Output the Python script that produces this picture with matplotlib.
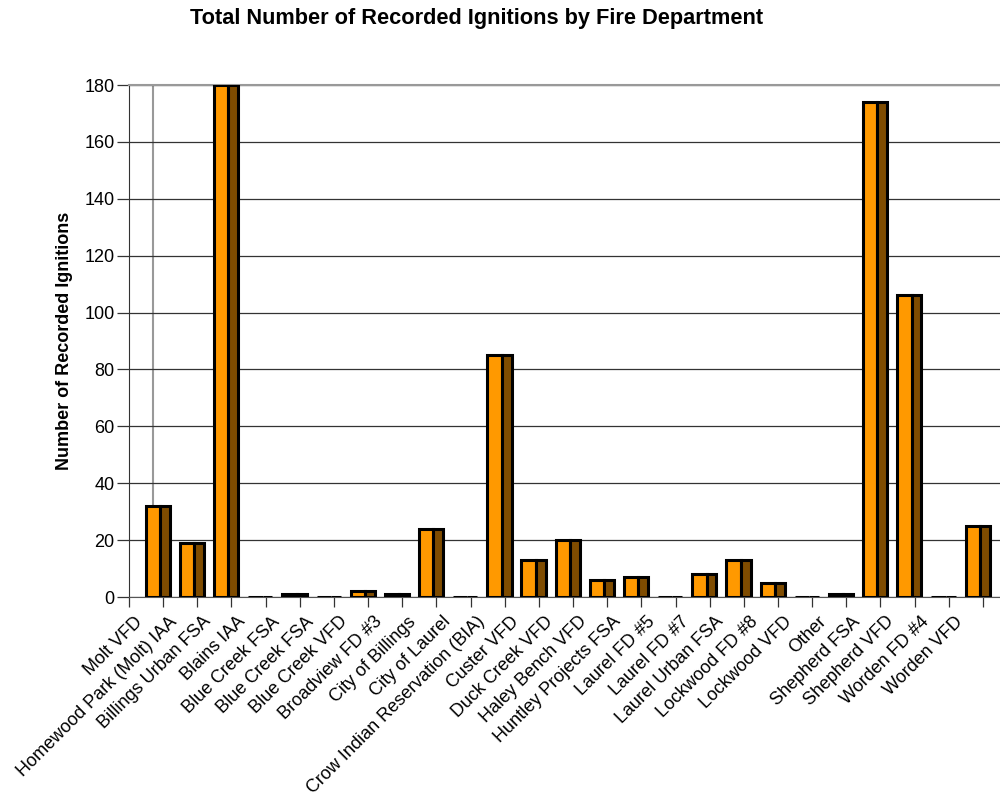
import numpy as np
import matplotlib
matplotlib.use("Agg")
import matplotlib.pyplot as plt

plt.rcParams['font.family'] = ['Liberation Sans', 'DejaVu Sans']

# Data
departments = [
    "Molt VFD", "Homewood Park (Molt) IAA", "Billings Urban FSA", "Blains IAA",
    "Blue Creek FSA", "Blue Creek FSA", "Blue Creek VFD", "Broadview FD #3",
    "City of Billings", "City of Laurel", "Crow Indian Reservation (BIA)",
    "Custer VFD", "Duck Creek VFD", "Haley Bench VFD", "Huntley Projects FSA",
    "Laurel FD #5", "Laurel FD #7", "Laurel Urban FSA", "Lockwood FD #8",
    "Lockwood VFD", "Other", "Shepherd FSA", "Shepherd VFD", "Worden FD #4",
    "Worden VFD",
]
ignitions = [32, 19, 180, 0, 1, 0, 2, 1, 24, 0, 85, 13, 20, 6, 7, 0, 8, 13, 5,
             0, 1, 174, 106, 0, 25]
yticks = [0, 20, 40, 60, 80, 100, 120, 140, 160, 180]

front_color = "#ff9900"
side_color = "#7f4c00"

fig = plt.figure(figsize=(10, 7.98), dpi=100)
ax = fig.add_axes([0.129, 1 - 597 / 798, 0.871, (597 - 85) / 798])

idx = np.arange(len(departments))

# pseudo-3D bars: orange front face and dark side face
ax.bar(idx + 0.49, ignitions, width=0.42, align='edge', color=front_color,
       edgecolor='black', linewidth=2.2, zorder=3)
ax.bar(idx + 0.91, ignitions, width=0.29, align='edge', color=side_color,
       edgecolor='black', linewidth=2.2, zorder=3)

ax.set_xlim(0, 25.5)
ax.set_ylim(0, 180)

# back wall edge
ax.axvline(0.70, color='#999999', linewidth=1.5, zorder=1)

ax.set_yticks(yticks)
ax.yaxis.grid(True, color='#333333', linewidth=0.9, zorder=0)
ax.tick_params(axis='y', length=8.5, width=0.9, color='#333333', labelsize=13,
               pad=2)

ax.set_xticks(np.arange(26))
ax.set_xticklabels([])
ax.tick_params(axis='x', which='major', length=7, width=0.9, color='#333333')
ax.set_xticks(idx + 0.33, minor=True)
ax.set_xticklabels(departments, minor=True, rotation=45, ha='right',
                   va='center', rotation_mode='anchor', fontsize=13)
ax.tick_params(axis='x', which='minor', length=0, pad=16)

ax.spines['right'].set_visible(False)
ax.spines['top'].set_color('#999999')
ax.spines['top'].set_linewidth(1.5)
ax.spines['left'].set_color('#333333')
ax.spines['bottom'].set_color('#555555')

ax.set_ylabel("Number of Recorded Ignitions", fontsize=13, fontweight='bold',
              labelpad=8)
fig.suptitle("Total Number of Recorded Ignitions by Fire Department",
             x=0.477, y=0.99, fontsize=15.7, fontweight='bold')

fig.savefig("out.png", dpi=100)
